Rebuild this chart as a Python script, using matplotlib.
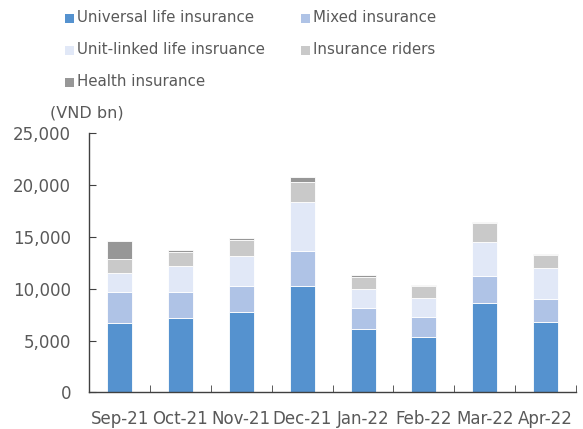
import numpy as np
import matplotlib
matplotlib.use("Agg")
import matplotlib.pyplot as plt
from matplotlib.patches import Rectangle

# ── data (VND bn) ─────────────────────────────────────────────────────────────
months      = ["Sep-21", "Oct-21", "Nov-21", "Dec-21", "Jan-22", "Feb-22", "Mar-22", "Apr-22"]
universal   = [6700, 7150, 7750, 10250, 6100, 5350, 8600, 6800]
mixed       = [3000, 2500, 2500, 3400, 2000, 1900, 2650, 2200]
unit_linked = [1800, 2550, 2900, 4750, 1850, 1900, 3250, 3000]
riders      = [1350, 1350, 1550, 1950, 1200, 1100, 1800, 1250]
health      = [1750, 200, 230, 450, 200, 150, 150, 130]

series = [
    ("Universal life insurance",   universal,   "#5592CF"),
    ("Mixed insurance",            mixed,       "#AFC3E6"),
    ("Unit-linked life insruance", unit_linked, "#E1E8F7"),
    ("Insurance riders",           riders,      "#C9C9C9"),
    ("Health insurance",           health,      "#979797"),
]

TXT = "#595959"
plt.rcParams["font.family"] = ["DejaVu Sans"]

W, H = 583, 429
fig = plt.figure(figsize=(W / 100, H / 100), dpi=100)
ax = fig.add_axes([0.153, 0.0855, 0.835, 0.6037])

x = np.arange(len(months))
bottom = np.zeros(len(months))
for name, vals, col in series:
    ax.bar(x, vals, width=0.41, bottom=bottom, color=col, edgecolor="white", linewidth=0.6)
    bottom += np.array(vals)

ax.set_xlim(-0.5, len(months) - 0.5)
ax.set_ylim(0, 25000)
ax.set_yticks(np.arange(0, 25001, 5000))
ax.yaxis.set_major_formatter(matplotlib.ticker.StrMethodFormatter("{x:,.0f}"))
ax.set_xticks(x)
ax.set_xticklabels(months)
ax.set_xticks(np.arange(-0.5, len(months)), minor=True)

for s in ("top", "right"):
    ax.spines[s].set_visible(False)
for s in ("left", "bottom"):
    ax.spines[s].set_color("#404040")
    ax.spines[s].set_linewidth(1.0)

ax.tick_params(axis="y", direction="in", length=5, pad=13, labelsize=12, colors="#404040", labelcolor=TXT)
ax.tick_params(axis="x", which="major", length=0, pad=12.5, labelsize=12, labelcolor=TXT)
ax.tick_params(axis="x", which="minor", direction="in", length=5, color="#404040")

fig.text(50 / W, 1 - 113 / H, "(VND bn)", fontsize=11.5, color=TXT, ha="left", va="center")

# legend, two columns laid out like the original
slots = [(65, 18), (301, 18), (65, 50), (301, 50), (65, 82)]
for (name, _, col), (lx, ly) in zip(series, slots):
    fig.patches.append(Rectangle((lx / W, 1 - (ly + 4.5) / H), 9 / W, 9 / H,
                                 transform=fig.transFigure, facecolor=col, edgecolor="none"))
    fig.text((lx + 12) / W, 1 - ly / H, name, fontsize=10.8, color=TXT, ha="left", va="center")

fig.savefig("out.png", dpi=100)
